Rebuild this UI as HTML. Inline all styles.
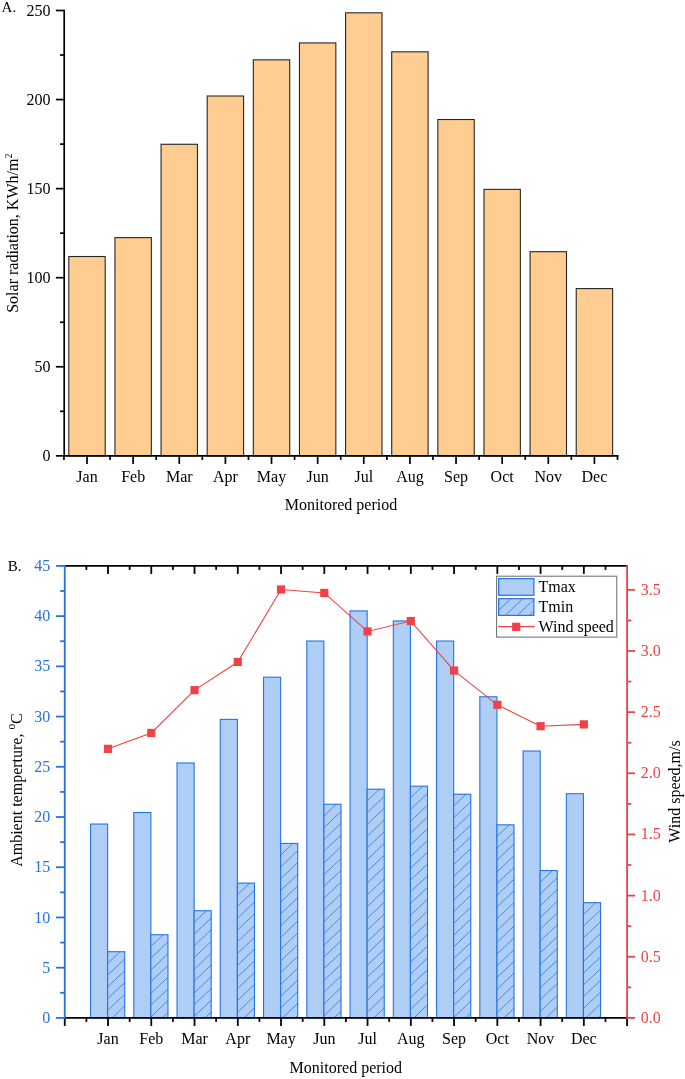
<!DOCTYPE html>
<html lang="en"><head><meta charset="utf-8"><title>Solar radiation, ambient temperature and wind speed</title>
<style>
html,body{margin:0;padding:0;background:#fff;}
body{width:685px;height:1079px;overflow:hidden;}
svg{display:block;will-change:transform;}
</style></head><body>
<svg width="685" height="1079" viewBox="0 0 685 1079" font-family='"Liberation Serif", "Times New Roman", serif' font-size="16px">
<rect width="685" height="1079" fill="#ffffff"/>
<g id="chartA">
<rect x="68.80" y="256.51" width="36.4" height="199.34" fill="#ffcd91" stroke="#262626" stroke-width="1.1"/>
<rect x="114.93" y="237.63" width="36.4" height="218.22" fill="#ffcd91" stroke="#262626" stroke-width="1.1"/>
<rect x="161.06" y="144.28" width="36.4" height="311.57" fill="#ffcd91" stroke="#262626" stroke-width="1.1"/>
<rect x="207.19" y="96.01" width="36.4" height="359.84" fill="#ffcd91" stroke="#262626" stroke-width="1.1"/>
<rect x="253.32" y="59.84" width="36.4" height="396.01" fill="#ffcd91" stroke="#262626" stroke-width="1.1"/>
<rect x="299.45" y="42.92" width="36.4" height="412.93" fill="#ffcd91" stroke="#262626" stroke-width="1.1"/>
<rect x="345.58" y="12.82" width="36.4" height="443.03" fill="#ffcd91" stroke="#262626" stroke-width="1.1"/>
<rect x="391.71" y="51.83" width="36.4" height="404.02" fill="#ffcd91" stroke="#262626" stroke-width="1.1"/>
<rect x="437.84" y="119.52" width="36.4" height="336.33" fill="#ffcd91" stroke="#262626" stroke-width="1.1"/>
<rect x="483.97" y="189.35" width="36.4" height="266.50" fill="#ffcd91" stroke="#262626" stroke-width="1.1"/>
<rect x="530.10" y="251.70" width="36.4" height="204.15" fill="#ffcd91" stroke="#262626" stroke-width="1.1"/>
<rect x="576.23" y="288.58" width="36.4" height="167.27" fill="#ffcd91" stroke="#262626" stroke-width="1.1"/>
<g stroke="#000" stroke-width="1.7" fill="none">
<path d="M64.2,9.65 V456.70000000000005"/>
<path d="M63.35,455.85 H618.45"/>
<path d="M55.900000000000006,455.85 H64.2"/>
<path d="M60.0,411.31 H64.2"/>
<path d="M55.900000000000006,366.78 H64.2"/>
<path d="M60.0,322.25 H64.2"/>
<path d="M55.900000000000006,277.71 H64.2"/>
<path d="M60.0,233.18 H64.2"/>
<path d="M55.900000000000006,188.64 H64.2"/>
<path d="M60.0,144.11 H64.2"/>
<path d="M55.900000000000006,99.57 H64.2"/>
<path d="M60.0,55.04 H64.2"/>
<path d="M55.900000000000006,10.50 H64.2"/>
<path d="M87.00,455.85 v8.1"/>
<path d="M133.13,455.85 v8.1"/>
<path d="M179.26,455.85 v8.1"/>
<path d="M225.39,455.85 v8.1"/>
<path d="M271.52,455.85 v8.1"/>
<path d="M317.65,455.85 v8.1"/>
<path d="M363.78,455.85 v8.1"/>
<path d="M409.91,455.85 v8.1"/>
<path d="M456.04,455.85 v8.1"/>
<path d="M502.17,455.85 v8.1"/>
<path d="M548.30,455.85 v8.1"/>
<path d="M594.43,455.85 v8.1"/>
<path d="M63.94,455.85 v4.1"/>
<path d="M110.06,455.85 v4.1"/>
<path d="M156.19,455.85 v4.1"/>
<path d="M202.32,455.85 v4.1"/>
<path d="M248.46,455.85 v4.1"/>
<path d="M294.59,455.85 v4.1"/>
<path d="M340.72,455.85 v4.1"/>
<path d="M386.85,455.85 v4.1"/>
<path d="M432.98,455.85 v4.1"/>
<path d="M479.11,455.85 v4.1"/>
<path d="M525.24,455.85 v4.1"/>
<path d="M571.37,455.85 v4.1"/>
<path d="M617.50,455.85 v4.1"/>
</g>
<g fill="#000">
<text x="50.6" y="460.95" text-anchor="end">0</text>
<text x="50.6" y="371.88" text-anchor="end">50</text>
<text x="50.6" y="282.81" text-anchor="end">100</text>
<text x="50.6" y="193.74" text-anchor="end">150</text>
<text x="50.6" y="104.67" text-anchor="end">200</text>
<text x="50.6" y="15.60" text-anchor="end">250</text>
<text x="87.00" y="481.8" text-anchor="middle">Jan</text>
<text x="133.13" y="481.8" text-anchor="middle">Feb</text>
<text x="179.26" y="481.8" text-anchor="middle">Mar</text>
<text x="225.39" y="481.8" text-anchor="middle">Apr</text>
<text x="271.52" y="481.8" text-anchor="middle">May</text>
<text x="317.65" y="481.8" text-anchor="middle">Jun</text>
<text x="363.78" y="481.8" text-anchor="middle">Jul</text>
<text x="409.91" y="481.8" text-anchor="middle">Aug</text>
<text x="456.04" y="481.8" text-anchor="middle">Sep</text>
<text x="502.17" y="481.8" text-anchor="middle">Oct</text>
<text x="548.30" y="481.8" text-anchor="middle">Nov</text>
<text x="594.43" y="481.8" text-anchor="middle">Dec</text>
<text x="341" y="509.6" text-anchor="middle">Monitored period</text>
<text x="1.6" y="12.4" font-size="15px">A.</text>
<text transform="translate(18.1,233.2) rotate(-90)" text-anchor="middle">Solar radiation, KWh/m<tspan font-size="10px" dy="-6">2</tspan></text>
</g>
</g>
<g id="chartB">
<rect x="90.51" y="824.04" width="17.1" height="193.86" fill="#afcef6" stroke="#2672e1" stroke-width="1.1"/>
<rect x="107.61" y="951.71" width="17.1" height="66.19" fill="#afcef6" stroke="#2672e1" stroke-width="1.1"/>
<path d="M107.61,963.46L119.98,951.71M107.61,975.21L124.71,958.96M107.61,986.96L124.71,970.71M107.61,998.71L124.71,982.46M107.61,1010.46L124.71,994.21M112.14,1017.90L124.71,1005.96M124.51,1017.90L124.71,1017.71" stroke="#2672e1" stroke-width="0.75" fill="none"/>
<rect x="133.77" y="812.49" width="17.1" height="205.41" fill="#afcef6" stroke="#2672e1" stroke-width="1.1"/>
<rect x="150.87" y="934.73" width="17.1" height="83.17" fill="#afcef6" stroke="#2672e1" stroke-width="1.1"/>
<path d="M150.87,946.48L163.23,934.73M150.87,958.23L167.97,941.99M150.87,969.98L167.97,953.74M150.87,981.73L167.97,965.49M150.87,993.48L167.97,977.24M150.87,1005.23L167.97,988.99M150.87,1016.98L167.97,1000.74M162.27,1017.90L167.97,1012.49" stroke="#2672e1" stroke-width="0.75" fill="none"/>
<rect x="177.02" y="762.97" width="17.1" height="254.93" fill="#afcef6" stroke="#2672e1" stroke-width="1.1"/>
<rect x="194.12" y="910.72" width="17.1" height="107.18" fill="#afcef6" stroke="#2672e1" stroke-width="1.1"/>
<path d="M194.12,922.47L206.49,910.72M194.12,934.22L211.22,917.98M194.12,945.97L211.22,929.73M194.12,957.72L211.22,941.48M194.12,969.47L211.22,953.23M194.12,981.22L211.22,964.98M194.12,992.97L211.22,976.73M194.12,1004.72L211.22,988.48M194.12,1016.47L211.22,1000.23M204.99,1017.90L211.22,1011.98" stroke="#2672e1" stroke-width="0.75" fill="none"/>
<rect x="220.28" y="719.38" width="17.1" height="298.52" fill="#afcef6" stroke="#2672e1" stroke-width="1.1"/>
<rect x="237.38" y="883.10" width="17.1" height="134.80" fill="#afcef6" stroke="#2672e1" stroke-width="1.1"/>
<path d="M237.38,894.85L249.75,883.10M237.38,906.60L254.48,890.36M237.38,918.35L254.48,902.11M237.38,930.10L254.48,913.86M237.38,941.85L254.48,925.61M237.38,953.60L254.48,937.36M237.38,965.35L254.48,949.11M237.38,977.10L254.48,960.86M237.38,988.85L254.48,972.61M237.38,1000.60L254.48,984.36M237.38,1012.35L254.48,996.11M243.91,1017.90L254.48,1007.86" stroke="#2672e1" stroke-width="0.75" fill="none"/>
<rect x="263.54" y="677.19" width="17.1" height="340.71" fill="#afcef6" stroke="#2672e1" stroke-width="1.1"/>
<rect x="280.64" y="843.43" width="17.1" height="174.47" fill="#afcef6" stroke="#2672e1" stroke-width="1.1"/>
<path d="M280.64,855.18L293.01,843.43M280.64,866.93L297.74,850.68M280.64,878.68L297.74,862.43M280.64,890.43L297.74,874.18M280.64,902.18L297.74,885.93M280.64,913.93L297.74,897.68M280.64,925.68L297.74,909.43M280.64,937.43L297.74,921.18M280.64,949.18L297.74,932.93M280.64,960.93L297.74,944.68M280.64,972.68L297.74,956.43M280.64,984.43L297.74,968.18M280.64,996.18L297.74,979.93M280.64,1007.93L297.74,991.68M282.51,1017.90L297.74,1003.43M294.88,1017.90L297.74,1015.18" stroke="#2672e1" stroke-width="0.75" fill="none"/>
<rect x="306.80" y="641.03" width="17.1" height="376.87" fill="#afcef6" stroke="#2672e1" stroke-width="1.1"/>
<rect x="323.90" y="804.25" width="17.1" height="213.65" fill="#afcef6" stroke="#2672e1" stroke-width="1.1"/>
<path d="M323.90,816.00L336.26,804.25M323.90,827.75L341.00,811.51M323.90,839.50L341.00,823.26M323.90,851.25L341.00,835.01M323.90,863.00L341.00,846.76M323.90,874.75L341.00,858.51M323.90,886.50L341.00,870.26M323.90,898.25L341.00,882.01M323.90,910.00L341.00,893.76M323.90,921.75L341.00,905.51M323.90,933.50L341.00,917.26M323.90,945.25L341.00,929.01M323.90,957.00L341.00,940.76M323.90,968.75L341.00,952.51M323.90,980.50L341.00,964.26M323.90,992.25L341.00,976.01M323.90,1004.00L341.00,987.76M323.90,1015.75L341.00,999.51M334.00,1017.90L341.00,1011.26" stroke="#2672e1" stroke-width="0.75" fill="none"/>
<rect x="350.05" y="610.90" width="17.1" height="407.00" fill="#afcef6" stroke="#2672e1" stroke-width="1.1"/>
<rect x="367.15" y="789.19" width="17.1" height="228.71" fill="#afcef6" stroke="#2672e1" stroke-width="1.1"/>
<path d="M367.15,800.94L379.52,789.19M367.15,812.69L384.25,796.44M367.15,824.44L384.25,808.19M367.15,836.19L384.25,819.94M367.15,847.94L384.25,831.69M367.15,859.69L384.25,843.44M367.15,871.44L384.25,855.19M367.15,883.19L384.25,866.94M367.15,894.94L384.25,878.69M367.15,906.69L384.25,890.44M367.15,918.44L384.25,902.19M367.15,930.19L384.25,913.94M367.15,941.94L384.25,925.69M367.15,953.69L384.25,937.44M367.15,965.44L384.25,949.19M367.15,977.19L384.25,960.94M367.15,988.94L384.25,972.69M367.15,1000.69L384.25,984.44M367.15,1012.44L384.25,996.19M373.77,1017.90L384.25,1007.94" stroke="#2672e1" stroke-width="0.75" fill="none"/>
<rect x="393.31" y="620.94" width="17.1" height="396.96" fill="#afcef6" stroke="#2672e1" stroke-width="1.1"/>
<rect x="410.41" y="786.17" width="17.1" height="231.73" fill="#afcef6" stroke="#2672e1" stroke-width="1.1"/>
<path d="M410.41,797.92L422.78,786.17M410.41,809.67L427.51,793.43M410.41,821.42L427.51,805.18M410.41,833.17L427.51,816.93M410.41,844.92L427.51,828.68M410.41,856.67L427.51,840.43M410.41,868.42L427.51,852.18M410.41,880.17L427.51,863.93M410.41,891.92L427.51,875.68M410.41,903.67L427.51,887.43M410.41,915.42L427.51,899.18M410.41,927.17L427.51,910.93M410.41,938.92L427.51,922.68M410.41,950.67L427.51,934.43M410.41,962.42L427.51,946.18M410.41,974.17L427.51,957.93M410.41,985.92L427.51,969.68M410.41,997.67L427.51,981.43M410.41,1009.42L427.51,993.18M413.86,1017.90L427.51,1004.93M426.23,1017.90L427.51,1016.68" stroke="#2672e1" stroke-width="0.75" fill="none"/>
<rect x="436.57" y="641.03" width="17.1" height="376.87" fill="#afcef6" stroke="#2672e1" stroke-width="1.1"/>
<rect x="453.67" y="794.21" width="17.1" height="223.69" fill="#afcef6" stroke="#2672e1" stroke-width="1.1"/>
<path d="M453.67,805.96L466.04,794.21M453.67,817.71L470.77,801.46M453.67,829.46L470.77,813.21M453.67,841.21L470.77,824.96M453.67,852.96L470.77,836.71M453.67,864.71L470.77,848.46M453.67,876.46L470.77,860.21M453.67,888.21L470.77,871.96M453.67,899.96L470.77,883.71M453.67,911.71L470.77,895.46M453.67,923.46L470.77,907.21M453.67,935.21L470.77,918.96M453.67,946.96L470.77,930.71M453.67,958.71L470.77,942.46M453.67,970.46L470.77,954.21M453.67,982.21L470.77,965.96M453.67,993.96L470.77,977.71M453.67,1005.71L470.77,989.46M453.67,1017.46L470.77,1001.21M465.57,1017.90L470.77,1012.96" stroke="#2672e1" stroke-width="0.75" fill="none"/>
<rect x="479.83" y="696.78" width="17.1" height="321.12" fill="#afcef6" stroke="#2672e1" stroke-width="1.1"/>
<rect x="496.93" y="824.84" width="17.1" height="193.06" fill="#afcef6" stroke="#2672e1" stroke-width="1.1"/>
<path d="M496.93,836.59L509.30,824.84M496.93,848.34L514.03,832.10M496.93,860.09L514.03,843.85M496.93,871.84L514.03,855.60M496.93,883.59L514.03,867.35M496.93,895.34L514.03,879.10M496.93,907.09L514.03,890.85M496.93,918.84L514.03,902.60M496.93,930.59L514.03,914.35M496.93,942.34L514.03,926.10M496.93,954.09L514.03,937.85M496.93,965.84L514.03,949.60M496.93,977.59L514.03,961.35M496.93,989.34L514.03,973.10M496.93,1001.09L514.03,984.85M496.93,1012.84L514.03,996.60M503.97,1017.90L514.03,1008.35" stroke="#2672e1" stroke-width="0.75" fill="none"/>
<rect x="523.08" y="751.02" width="17.1" height="266.88" fill="#afcef6" stroke="#2672e1" stroke-width="1.1"/>
<rect x="540.18" y="870.55" width="17.1" height="147.35" fill="#afcef6" stroke="#2672e1" stroke-width="1.1"/>
<path d="M540.18,882.30L552.55,870.55M540.18,894.05L557.28,877.80M540.18,905.80L557.28,889.55M540.18,917.55L557.28,901.30M540.18,929.30L557.28,913.05M540.18,941.05L557.28,924.80M540.18,952.80L557.28,936.55M540.18,964.55L557.28,948.30M540.18,976.30L557.28,960.05M540.18,988.05L557.28,971.80M540.18,999.80L557.28,983.55M540.18,1011.55L557.28,995.30M545.87,1017.90L557.28,1007.05" stroke="#2672e1" stroke-width="0.75" fill="none"/>
<rect x="566.34" y="793.71" width="17.1" height="224.19" fill="#afcef6" stroke="#2672e1" stroke-width="1.1"/>
<rect x="583.44" y="902.69" width="17.1" height="115.21" fill="#afcef6" stroke="#2672e1" stroke-width="1.1"/>
<path d="M583.44,914.44L595.81,902.69M583.44,926.19L600.54,909.94M583.44,937.94L600.54,921.69M583.44,949.69L600.54,933.44M583.44,961.44L600.54,945.19M583.44,973.19L600.54,956.94M583.44,984.94L600.54,968.69M583.44,996.69L600.54,980.44M583.44,1008.44L600.54,992.19M585.85,1017.90L600.54,1003.94M598.22,1017.90L600.54,1015.69" stroke="#2672e1" stroke-width="0.75" fill="none"/>
<polyline points="108.01,748.84 151.27,732.94 194.52,690.14 237.78,662.01 281.04,589.48 324.30,592.91 367.55,631.43 410.81,621.04 454.07,670.57 497.33,704.81 540.58,726.21 583.84,724.38" fill="none" stroke="#ef4246" stroke-width="1.1"/>
<rect x="103.91" y="744.74" width="8.2" height="8.2" fill="#ef4246"/>
<rect x="147.17" y="728.84" width="8.2" height="8.2" fill="#ef4246"/>
<rect x="190.42" y="686.04" width="8.2" height="8.2" fill="#ef4246"/>
<rect x="233.68" y="657.91" width="8.2" height="8.2" fill="#ef4246"/>
<rect x="276.94" y="585.38" width="8.2" height="8.2" fill="#ef4246"/>
<rect x="320.20" y="588.81" width="8.2" height="8.2" fill="#ef4246"/>
<rect x="363.45" y="627.33" width="8.2" height="8.2" fill="#ef4246"/>
<rect x="406.71" y="616.94" width="8.2" height="8.2" fill="#ef4246"/>
<rect x="449.97" y="666.47" width="8.2" height="8.2" fill="#ef4246"/>
<rect x="493.23" y="700.71" width="8.2" height="8.2" fill="#ef4246"/>
<rect x="536.48" y="722.11" width="8.2" height="8.2" fill="#ef4246"/>
<rect x="579.74" y="720.28" width="8.2" height="8.2" fill="#ef4246"/>
<g stroke="#000" stroke-width="1.8" fill="none">
<path d="M64.75,565.9 H627.1"/>
<path d="M64.75,1017.9 H627.1"/>
<path d="M64.75,1017.9 v8"/>
<path d="M86.38,1017.9 v4"/>
<path d="M86.38,565.9 v4"/>
<path d="M108.01,1017.9 v8"/>
<path d="M108.01,565.9 v8"/>
<path d="M129.64,1017.9 v4"/>
<path d="M129.64,565.9 v4"/>
<path d="M151.27,1017.9 v8"/>
<path d="M151.27,565.9 v8"/>
<path d="M172.89,1017.9 v4"/>
<path d="M172.89,565.9 v4"/>
<path d="M194.52,1017.9 v8"/>
<path d="M194.52,565.9 v8"/>
<path d="M216.15,1017.9 v4"/>
<path d="M216.15,565.9 v4"/>
<path d="M237.78,1017.9 v8"/>
<path d="M237.78,565.9 v8"/>
<path d="M259.41,1017.9 v4"/>
<path d="M259.41,565.9 v4"/>
<path d="M281.04,1017.9 v8"/>
<path d="M281.04,565.9 v8"/>
<path d="M302.67,1017.9 v4"/>
<path d="M302.67,565.9 v4"/>
<path d="M324.30,1017.9 v8"/>
<path d="M324.30,565.9 v8"/>
<path d="M345.93,1017.9 v4"/>
<path d="M345.93,565.9 v4"/>
<path d="M367.55,1017.9 v8"/>
<path d="M367.55,565.9 v8"/>
<path d="M389.18,1017.9 v4"/>
<path d="M389.18,565.9 v4"/>
<path d="M410.81,1017.9 v8"/>
<path d="M410.81,565.9 v8"/>
<path d="M432.44,1017.9 v4"/>
<path d="M432.44,565.9 v4"/>
<path d="M454.07,1017.9 v8"/>
<path d="M454.07,565.9 v8"/>
<path d="M475.70,1017.9 v4"/>
<path d="M475.70,565.9 v4"/>
<path d="M497.33,1017.9 v8"/>
<path d="M497.33,565.9 v8"/>
<path d="M518.96,1017.9 v4"/>
<path d="M518.96,565.9 v4"/>
<path d="M540.58,1017.9 v8"/>
<path d="M540.58,565.9 v8"/>
<path d="M562.21,1017.9 v4"/>
<path d="M562.21,565.9 v4"/>
<path d="M583.84,1017.9 v8"/>
<path d="M583.84,565.9 v8"/>
<path d="M605.47,1017.9 v4"/>
<path d="M605.47,565.9 v4"/>
<path d="M627.10,1017.9 v8"/>
</g>
<g stroke="#2672e1" stroke-width="1.8" fill="none">
<path d="M64.75,565.0 V1018.8"/>
<path d="M55.95,1017.90 H64.75"/>
<path d="M60.15,992.79 H64.75"/>
<path d="M55.95,967.68 H64.75"/>
<path d="M60.15,942.57 H64.75"/>
<path d="M55.95,917.46 H64.75"/>
<path d="M60.15,892.34 H64.75"/>
<path d="M55.95,867.23 H64.75"/>
<path d="M60.15,842.12 H64.75"/>
<path d="M55.95,817.01 H64.75"/>
<path d="M60.15,791.90 H64.75"/>
<path d="M55.95,766.79 H64.75"/>
<path d="M60.15,741.68 H64.75"/>
<path d="M55.95,716.57 H64.75"/>
<path d="M60.15,691.46 H64.75"/>
<path d="M55.95,666.34 H64.75"/>
<path d="M60.15,641.23 H64.75"/>
<path d="M55.95,616.12 H64.75"/>
<path d="M60.15,591.01 H64.75"/>
<path d="M55.95,565.90 H64.75"/>
</g>
<g stroke="#ef4246" stroke-width="1.8" fill="none">
<path d="M627.1,565.0 V1018.8"/>
<path d="M627.1,1017.90 h8.0"/>
<path d="M627.1,987.32 h4.2"/>
<path d="M627.1,956.75 h8.0"/>
<path d="M627.1,926.17 h4.2"/>
<path d="M627.1,895.60 h8.0"/>
<path d="M627.1,865.02 h4.2"/>
<path d="M627.1,834.45 h8.0"/>
<path d="M627.1,803.88 h4.2"/>
<path d="M627.1,773.30 h8.0"/>
<path d="M627.1,742.72 h4.2"/>
<path d="M627.1,712.15 h8.0"/>
<path d="M627.1,681.58 h4.2"/>
<path d="M627.1,651.00 h8.0"/>
<path d="M627.1,620.42 h4.2"/>
<path d="M627.1,589.85 h8.0"/>
</g>
<g fill="#2672e1">
<text x="50.2" y="1023.00" text-anchor="end">0</text>
<text x="50.2" y="972.78" text-anchor="end">5</text>
<text x="50.2" y="922.56" text-anchor="end">10</text>
<text x="50.2" y="872.33" text-anchor="end">15</text>
<text x="50.2" y="822.11" text-anchor="end">20</text>
<text x="50.2" y="771.89" text-anchor="end">25</text>
<text x="50.2" y="721.67" text-anchor="end">30</text>
<text x="50.2" y="671.44" text-anchor="end">35</text>
<text x="50.2" y="621.22" text-anchor="end">40</text>
<text x="50.2" y="571.00" text-anchor="end">45</text>
</g>
<g fill="#ef4246">
<text x="640.8" y="1022.80">0.0</text>
<text x="640.8" y="961.65">0.5</text>
<text x="640.8" y="900.50">1.0</text>
<text x="640.8" y="839.35">1.5</text>
<text x="640.8" y="778.20">2.0</text>
<text x="640.8" y="717.05">2.5</text>
<text x="640.8" y="655.90">3.0</text>
<text x="640.8" y="594.75">3.5</text>
</g>
<g fill="#000">
<text x="108.01" y="1043.7" text-anchor="middle">Jan</text>
<text x="151.27" y="1043.7" text-anchor="middle">Feb</text>
<text x="194.52" y="1043.7" text-anchor="middle">Mar</text>
<text x="237.78" y="1043.7" text-anchor="middle">Apr</text>
<text x="281.04" y="1043.7" text-anchor="middle">May</text>
<text x="324.30" y="1043.7" text-anchor="middle">Jun</text>
<text x="367.55" y="1043.7" text-anchor="middle">Jul</text>
<text x="410.81" y="1043.7" text-anchor="middle">Aug</text>
<text x="454.07" y="1043.7" text-anchor="middle">Sep</text>
<text x="497.33" y="1043.7" text-anchor="middle">Oct</text>
<text x="540.58" y="1043.7" text-anchor="middle">Nov</text>
<text x="583.84" y="1043.7" text-anchor="middle">Dec</text>
<text x="345.8" y="1073" text-anchor="middle">Monitored period</text>
<text x="7.8" y="571.2" font-size="15px">B.</text>
<text transform="translate(22,790.1) rotate(-90)" text-anchor="middle">Ambient temperture, <tspan font-size="11.5px" dy="-7">o</tspan><tspan dy="7" dx="-0.2">C</tspan></text>
<text transform="translate(679.9,791.5) rotate(-90)" text-anchor="middle">Wind speed,m/s</text>
</g>
<rect x="496.6" y="576.2" width="120.2" height="60.9" fill="#fff" stroke="#6a6a6a" stroke-width="1"/>
<rect x="498.6" y="578.6" width="35.3" height="16.7" fill="#afcef6" stroke="#2672e1" stroke-width="1.2"/>
<rect x="498.6" y="598.7" width="35.3" height="16.7" fill="#afcef6" stroke="#2672e1" stroke-width="1.2"/>
<path d="M498.60,610.30L510.81,598.70M505.23,615.40L522.81,598.70M517.23,615.40L533.90,599.57M529.23,615.40L533.90,610.97" stroke="#2672e1" stroke-width="0.75" fill="none"/>
<path d="M498.1,626.6 H534.7" stroke="#ef4246" stroke-width="1.1"/>
<rect x="512.1" y="622.7" width="8.2" height="8.2" fill="#ef4246"/>
<g fill="#000">
<text x="538.5" y="592.1">Tmax</text>
<text x="538.5" y="611.7">Tmin</text>
<text x="538.5" y="631.6">Wind speed</text>
</g>
</g>
</svg>
</body></html>
